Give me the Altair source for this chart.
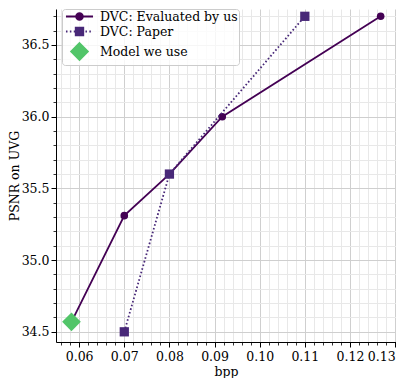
import altair as alt
import pandas as pd

# ---- data ----
eval_bpp = [0.0583, 0.0700, 0.0800, 0.0917, 0.1268]
eval_psnr = [34.57, 35.31, 35.60, 36.00, 36.70]
paper_bpp = [0.0700, 0.0800, 0.1100]
paper_psnr = [34.50, 35.60, 36.70]
model_bpp = [0.0583]
model_psnr = [34.57]

series_names = ["DVC: Evaluated by us", "DVC: Paper", "Model we use"]
colors = ["#440154", "#482878", "#52c569"]

x_major = [0.06, 0.07, 0.08, 0.09, 0.10, 0.11, 0.12, 0.13]
y_major = [34.5, 35.0, 35.5, 36.0, 36.5]
x_minor = [round(0.054 + 0.002 * i, 3) for i in range(40)]
x_minor = [v for v in x_minor if all(abs(v - m) > 1e-6 for m in x_major)]
y_minor = [round(34.4 + 0.1 * i, 1) for i in range(25)]
y_minor = [v for v in y_minor if all(abs(v - m) > 1e-6 for m in y_major)]

x_domain = [0.05487, 0.1302]
y_domain = [34.429, 36.751]

FONT = "DejaVu Serif"
FS = 12.5

# ---- legend symbol paths (unit space) ----
def circle(r):
    return f"M{-r},0A{r},{r},0,1,1,{r},0A{r},{r},0,1,1,{-r},0Z"

solid_line = "M-2.5,0L2.5,0"
dots = ""
pos = -2.5
while pos < 2.5:
    end = min(pos + 0.28, 2.5)
    dots += f"M{pos:.3f},0L{end:.3f},0"
    pos += 0.72
square = "M-0.7,-0.7L0.7,-0.7L0.7,0.7L-0.7,0.7Z"
diamond = "M0,-1.55L1.55,0L0,1.55L-1.55,0Z"
legend_paths = [solid_line + circle(0.62), dots + square, diamond]

df_eval = pd.DataFrame({"bpp": eval_bpp, "psnr": eval_psnr})
df_paper = pd.DataFrame({"bpp": paper_bpp, "psnr": paper_psnr})
df_model = pd.DataFrame({"bpp": model_bpp, "psnr": model_psnr})
df_legend = pd.DataFrame({"series": series_names})

xs = alt.Scale(domain=x_domain, nice=False, zero=False)
ys = alt.Scale(domain=y_domain, nice=False, zero=False)

minor_x = alt.Axis(orient="bottom", values=x_minor, grid=True, gridColor="#e8e8e8",
                   gridWidth=1, tickSize=3, tickColor="black", tickWidth=0.8,
                   labels=False, domain=False, title=None)
minor_y = alt.Axis(orient="left", values=y_minor, grid=True, gridColor="#e8e8e8",
                   gridWidth=1, tickSize=3, tickColor="black", tickWidth=0.8,
                   labels=False, domain=False, title=None)
major_x = alt.Axis(orient="bottom", values=x_major, format=".2f", grid=True,
                   gridColor="#cfcfcf", gridWidth=1, tickSize=5, tickColor="black",
                   tickWidth=1, domain=True, domainColor="black", domainWidth=1,
                   labelFont=FONT, labelFontSize=FS, labelColor="black", labelPadding=3,
                   title="bpp", titleFont=FONT, titleFontSize=FS, titleFontWeight="normal",
                   titleColor="black", titlePadding=3)
major_y = alt.Axis(orient="left", values=y_major, format=".1f", grid=True,
                   gridColor="#cfcfcf", gridWidth=1, tickSize=5, tickColor="black",
                   tickWidth=1, domain=True, domainColor="black", domainWidth=1,
                   labelFont=FONT, labelFontSize=FS, labelColor="black", labelPadding=2,
                   title="PSNR on UVG", titleFont=FONT, titleFontSize=FS,
                   titleFontWeight="normal", titleColor="black", titlePadding=0)

eval_line = alt.Chart(df_eval).mark_line(color=colors[0], strokeWidth=1.8).encode(
    x=alt.X("bpp:Q", scale=xs, axis=minor_x),
    y=alt.Y("psnr:Q", scale=ys, axis=minor_y),
)
eval_pts = alt.Chart(df_eval).mark_point(filled=True, shape="circle", size=58,
                                         color=colors[0], opacity=1).encode(
    x=alt.X("bpp:Q", scale=xs, axis=major_x),
    y=alt.Y("psnr:Q", scale=ys, axis=major_y),
)
paper_line = alt.Chart(df_paper).mark_line(color=colors[1], strokeWidth=1.8,
                                           strokeDash=[1.6, 2.2]).encode(
    x=alt.X("bpp:Q", scale=xs, axis=None),
    y=alt.Y("psnr:Q", scale=ys, axis=None),
)
paper_pts = alt.Chart(df_paper).mark_point(filled=True, shape="square", size=86,
                                           color=colors[1], opacity=1).encode(
    x=alt.X("bpp:Q", scale=xs, axis=None),
    y=alt.Y("psnr:Q", scale=ys, axis=None),
)
model_pt = alt.Chart(df_model).mark_point(filled=True, shape="diamond", size=350,
                                          color=colors[2], opacity=1).encode(
    x=alt.X("bpp:Q", scale=xs, axis=None),
    y=alt.Y("psnr:Q", scale=ys, axis=None),
)

leg = alt.Legend(title=None, orient="none", legendX=6, legendY=0,
                 labelFont=FONT, labelFontSize=FS, labelColor="black",
                 symbolSize=117, symbolStrokeWidth=1.8, symbolOffset=10,
                 labelOffset=14, padding=1, rowPadding=0,
                 fillColor="rgba(255,255,255,0.8)", strokeColor="#cccccc",
                 cornerRadius=3)
legend_layer = alt.Chart(df_legend).transform_filter("false").mark_point(
    filled=True, size=117, strokeWidth=1.8, opacity=1).encode(
    fill=alt.Fill("series:N", scale=alt.Scale(domain=series_names, range=colors), legend=leg),
    stroke=alt.Stroke("series:N", scale=alt.Scale(domain=series_names, range=colors), legend=leg),
    shape=alt.Shape("series:N", scale=alt.Scale(domain=series_names, range=legend_paths), legend=leg),
)

chart = alt.layer(eval_line, eval_pts, paper_line, paper_pts, model_pt, legend_layer).resolve_axis(
    x="independent", y="independent"
).properties(
    width=340, height=333,
    padding={"left": 0, "top": 0, "right": 0, "bottom": 0},
).configure_view(stroke=None).configure_legend(
    labelFont=FONT, labelFontSize=FS, labelColor="black"
).configure_axis(
    labelFont=FONT, labelFontSize=FS, titleFont=FONT, titleFontSize=FS
)

chart.save("out.html", embed_options={"renderer": "svg", "actions": False})
